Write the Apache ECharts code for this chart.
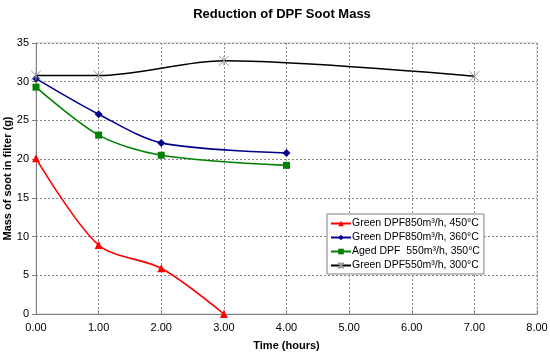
<!DOCTYPE html>
<html><head><meta charset="utf-8">
<script src="https://cdn.jsdelivr.net/npm/echarts@6/dist/echarts.min.js"></script>
<style>html,body{margin:0;padding:0;background:#fff}#c{width:550px;height:355px}</style>
</head><body><div id="c"></div>
<script>
const seriesNames = ['Green DPF850m³/h, 450°C','Green DPF850m³/h, 360°C','Aged DPF  550m³/h, 350°C','Green DPF550m³/h, 300°C'];
const redX = [0,1,2,3];
const redY = [20.1,8.9,5.9,0];
const blueX = [0,1,2,4];
const blueY = [30.4,25.8,22.1,20.8];
const greenX = [0,1,2,4];
const greenY = [29.3,23.1,20.5,19.2];
const blackX = [0,1,3,7];
const blackY = [30.8,30.8,32.7,30.7];
const xTicks = [0,1,2,3,4,5,6,7,8];
const yTicks = [0,5,10,15,20,25,30,35];

const pairs = (xs, ys) => xs.map((x,i)=>[x, ys[i]]);
const FONT = '"Liberation Sans", Arial, sans-serif';
const crossPath = 'path://M0,0L10,10M10,0L0,10M5,0L5,10';

const chart = echarts.init(document.getElementById('c'), null, {renderer:'canvas'});
chart.setOption({
  animation:false,
  backgroundColor:'#fff',
  textStyle:{fontFamily:FONT},
  title:{text:'Reduction of DPF Soot Mass', left:277, textAlign:'center', top:3,
    textStyle:{fontFamily:FONT, fontSize:13, fontWeight:'bold', color:'#000'}},
  grid:{left:36, right:13, top:43, bottom:41, containLabel:false, outerBoundsMode:'none',
    show:true, borderColor:'#c8c8c8', borderWidth:1},
  xAxis:{type:'value', min:xTicks[0], max:xTicks[xTicks.length-1], interval:1,
    name:'Time (hours)', nameLocation:'middle', nameGap:26, nameMoveOverlap:false,
    nameTextStyle:{fontFamily:FONT, fontSize:11, fontWeight:'bold', color:'#000'},
    axisLine:{show:true, lineStyle:{color:'#808080'}},
    axisTick:{show:true, inside:true, length:4, lineStyle:{color:'#808080'}},
    axisLabel:{fontFamily:FONT, fontSize:11, color:'#000', margin:8, formatter:v=>v.toFixed(2)},
    splitLine:{show:true, lineStyle:{color:'#888', type:[2,2], width:1}}},
  yAxis:{type:'value', min:yTicks[0], max:yTicks[yTicks.length-1], interval:5,
    name:'Mass of soot in filter (g)', nameLocation:'middle', nameGap:23, nameMoveOverlap:false,
    nameTextStyle:{fontFamily:FONT, fontSize:11, fontWeight:'bold', color:'#000'},
    axisLine:{show:true, lineStyle:{color:'#808080'}},
    axisTick:{show:true, length:4, lineStyle:{color:'#808080'}},
    axisLabel:{fontFamily:FONT, fontSize:11, color:'#000', margin:7},
    splitLine:{show:true, lineStyle:{color:'#888', type:[2,2], width:1}}},
  legend:{orient:'vertical', left:327, top:214,
    backgroundColor:'#fff', borderColor:'#808080', borderWidth:1, padding:[4,4,3,3],
    itemWidth:20, itemHeight:7, itemGap:3,
    textStyle:{fontFamily:FONT, fontSize:10.5, color:'#000', padding:[0,0,0,-4]},
    data:seriesNames},
  series:[
    {name:seriesNames[0], type:'line', smooth:0.3, data:pairs(redX,redY),
      symbol:'triangle', symbolSize:8, lineStyle:{color:'#ff0000', width:1.6},
      itemStyle:{color:'#ff0000'}},
    {name:seriesNames[1], type:'line', smooth:0.3, data:pairs(blueX,blueY),
      symbol:'diamond', symbolSize:8, lineStyle:{color:'#00008b', width:1.6},
      itemStyle:{color:'#00008b'}},
    {name:seriesNames[2], type:'line', smooth:0.3, data:pairs(greenX,greenY),
      symbol:'rect', symbolSize:7, lineStyle:{color:'#008000', width:1.6},
      itemStyle:{color:'#008000'}},
    {name:seriesNames[3], type:'line', smooth:0.3, data:pairs(blackX,blackY),
      symbol:crossPath, symbolSize:10, lineStyle:{color:'#000', width:1.6},
      itemStyle:{color:'none', borderColor:'#999', borderWidth:1}}
  ]
});
</script></body></html>
